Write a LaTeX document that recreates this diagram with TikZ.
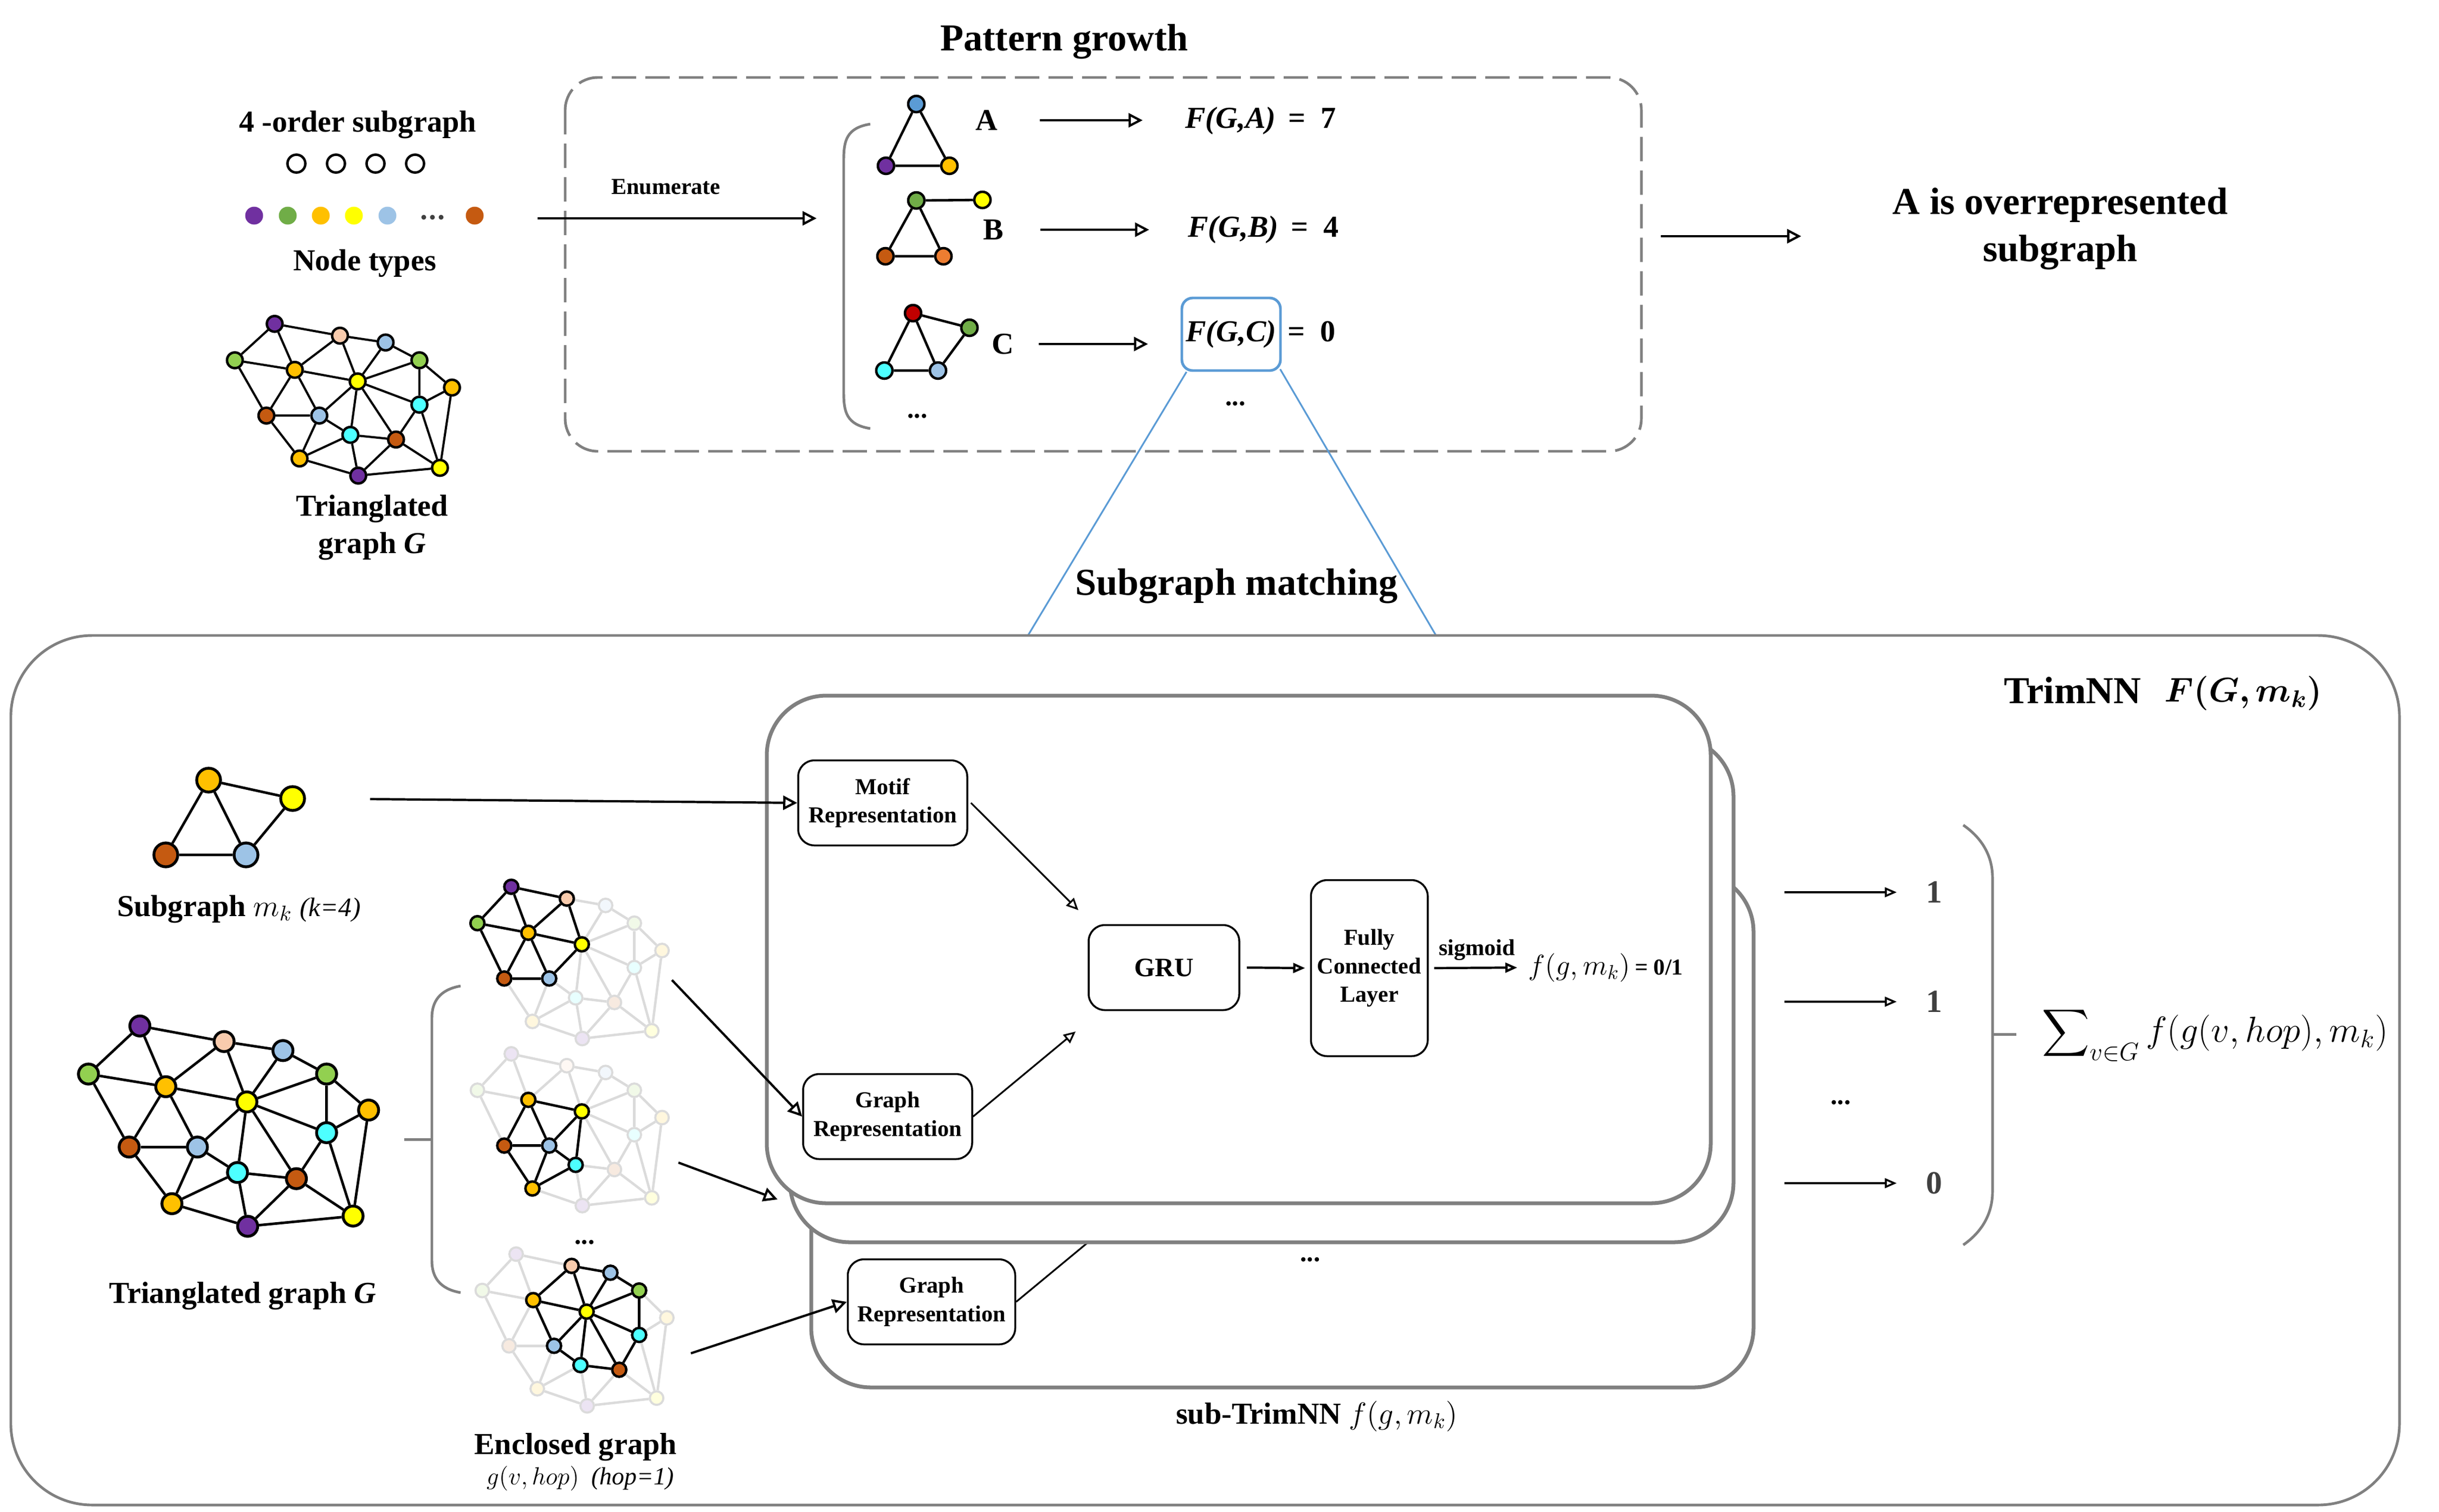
\RequirePackage{fix-cm}
\documentclass[tikz,border=0pt]{standalone}
\usepackage{amsmath}
\usepackage{bm}
\usepackage{fontspec}
\setmainfont{Liberation Serif}
\usetikzlibrary{arrows.meta,positioning}

\definecolor{cpurple}{HTML}{7030A0}
\definecolor{cgreen}{HTML}{70AD47}
\definecolor{clgreen}{HTML}{92D050}
\definecolor{cgold}{HTML}{FFC000}
\definecolor{cyellow}{HTML}{FFFF00}
\definecolor{clblue}{HTML}{9DC3E6}
\definecolor{cbrown}{HTML}{C55A11}
\definecolor{cpeach}{HTML}{F8CBAD}
\definecolor{ccyan}{HTML}{4DFFFF}
\definecolor{cblue}{HTML}{5B9BD5}
\definecolor{corange}{HTML}{ED7D31}
\definecolor{cred}{HTML}{C00000}
\definecolor{cgrey}{HTML}{808080}
\definecolor{cdark}{HTML}{404040}

\colorlet{cpu1}{cpurple}\colorlet{cpe}{cpeach}\colorlet{clb1}{clblue}\colorlet{cgr2}{clgreen}
\colorlet{cgr1}{clgreen}\colorlet{cor1}{cgold}\colorlet{cye}{cyellow}\colorlet{cor2}{cgold}
\colorlet{ccy1}{ccyan}\colorlet{cbr1}{cbrown}\colorlet{clb2}{clblue}\colorlet{ccy2}{ccyan}
\colorlet{cbr2}{cbrown}\colorlet{cor3}{cgold}\colorlet{cpu2}{cpurple}\colorlet{cye2}{cyellow}

\def\gnodes{pu1/-1.531/1.062,pe/-0.326/0.844,lb1/0.516/0.718,gr2/1.14/0.39,gr1/-2.266/0.39,or1/-1.16/0.213,ye/0/0,or2/1.741/-0.114,cy1/1.14/-0.43,br1/-1.684/-0.631,lb2/-0.708/-0.631,cy2/-0.134/-0.987,br2/0.708/-1.073,or3/-1.072/-1.423,pu2/0.011/-1.739,ye2/1.519/-1.596}
\def\gedges{pu1/gr1,pu1/pe,pu1/or1,pe/lb1,pe/or1,pe/ye,lb1/gr2,lb1/ye,gr2/or2,gr2/ye,gr2/cy1,gr1/or1,gr1/br1,or1/ye,or1/br1,or1/lb2,ye/cy1,ye/lb2,ye/cy2,ye/br2,or2/cy1,or2/ye2,cy1/br2,cy1/ye2,br1/lb2,br1/or3,lb2/or3,lb2/cy2,cy2/or3,cy2/br2,cy2/pu2,br2/pu2,br2/ye2,or3/pu2,pu2/ye2}

\newcommand{\placegraph}[4]{\begin{scope}[shift={#2},#3]\foreach \n/\x/\y in \gnodes {\node[#4=c\n] (#1\n) at (\x,\y) {};}\end{scope}}
\newcommand{\linkgraph}[3]{\foreach \a/\b in #2 {\draw[#3] (#1\a) -- (#1\b);}}
\newcommand{\lightgraph}[3]{\foreach \n in {#2} {\node[#3=c\n] (#1\n) at (#1\n) {};}}

\tikzset{every path/.style={line width=1pt},
  titletext/.style={font=\fontsize{20}{24.7}\selectfont\bfseries},
  captext/.style={font=\fontsize{16}{19.6}\selectfont\bfseries},
  smalltext/.style={font=\fontsize{12}{15}\selectfont\bfseries},
  ftext/.style={font=\fontsize{16}{19.6}\selectfont\bfseries, inner sep=0pt},
  dotstext/.style={font=\fontsize{14}{16}\selectfont\bfseries, text=cdark},
  numtext/.style={font=\fontsize{17}{20}\selectfont\bfseries, text=cdark, inner sep=0pt},
  boxtext/.style={font=\fontsize{12}{15}\selectfont\bfseries, align=center, draw, rounded corners=0.3cm, line width=1pt, fill=white, minimum width=3.12cm, minimum height=1.57cm},
  topnode/.style={circle, draw, fill=#1, line width=1.3pt, minimum size=0.29cm, inner sep=0pt},
  botnode/.style={circle, draw, fill=#1, line width=1.5pt, minimum size=0.37cm, inner sep=0pt},
  mknode/.style={circle, draw, fill=#1, line width=1.5pt, minimum size=0.44cm, inner sep=0pt},
  pnode/.style={circle, draw, fill=#1, line width=1.3pt, minimum size=0.30cm, inner sep=0pt},
  fadenode/.style={circle, draw=black!14, fill=#1!13, line width=1.1pt, minimum size=0.25cm, inner sep=0pt},
  encnode/.style={circle, draw, fill=#1, line width=1.3pt, minimum size=0.26cm, inner sep=0pt},
  topedge/.style={line width=1.15pt},
  botedge/.style={line width=1.35pt},
  fadeedge/.style={draw=black!14, line width=1.3pt},
  encedge/.style={line width=1.3pt},
  pedge/.style={line width=1.3pt},
  bigarrow/.style={-{Triangle[open,length=0.26cm,width=0.26cm]}, line width=1.2pt},
  midarrow/.style={-{Triangle[open,length=0.22cm,width=0.18cm]}, line width=1pt},
  smallarrow/.style={-{Triangle[open,length=0.22cm,width=0.2cm]}, line width=0.9pt},
  dashbox/.style={draw=cgrey, line width=1.4pt, dash pattern=on 0.45cm off 0.17cm, rounded corners=0.6cm},
  outerbox/.style={draw=cgrey, line width=1.4pt, rounded corners=1.5cm},
  subbox/.style={draw=cgrey, line width=2pt, fill=white, rounded corners=1.1cm},
  bracket/.style={draw=cgrey, line width=1.4pt},
  zoomline/.style={draw=cblue, line width=0.9pt}}

\begin{document}
\begin{tikzpicture}
\useasboundingbox (0,0) rectangle (45.01,-27.90);

\node[titletext] (pgtitle) at (19.64,-0.77) {Pattern growth};
\draw[dashbox] (10.43,-1.43) rectangle (30.29,-8.33);

\node[captext] (ordertxt) at (6.60,-2.30) {4 -order subgraph};
\draw[line width=1.3pt] (5.47,-3.02) circle[radius=.165];
\draw[line width=1.3pt] (6.20,-3.02) circle[radius=.165];
\draw[line width=1.3pt] (6.93,-3.02) circle[radius=.165];
\draw[line width=1.3pt] (7.66,-3.02) circle[radius=.165];
\fill[cpurple] (4.69,-3.98) circle[radius=.165];
\fill[cgreen] (5.31,-3.98) circle[radius=.165];
\fill[cgold] (5.92,-3.98) circle[radius=.165];
\fill[cyellow] (6.53,-3.98) circle[radius=.165];
\fill[clblue] (7.15,-3.98) circle[radius=.165];
\fill[cdark] (7.82,-4.01) circle[radius=.045];
\fill[cdark] (7.98,-4.01) circle[radius=.045];
\fill[cdark] (8.14,-4.01) circle[radius=.045];
\fill[cbrown] (8.76,-3.98) circle[radius=.165];
\node[captext] (typetxt) at (6.73,-4.86) {Node types};

\placegraph{t}{(6.60,-7.04)}{scale=1}{topnode}
\linkgraph{t}{\gedges}{topedge}
\node[captext, align=center] (tgcap) at (6.87,-9.74) {Trianglated\\graph \textit{G}};

\coordinate (enumin) at (9.92,-4.03);
\coordinate (enumout) at (15.07,-4.03);
\draw[bigarrow] (enumin) -- node[smalltext, above=0.3cm, pos=0.46] (enumtxt) {Enumerate} (enumout);
\draw[bracket] (16.06,-2.29) .. controls (15.62,-2.36) and (15.57,-2.60) .. (15.57,-2.95) -- (15.57,-7.25) .. controls (15.57,-7.60) and (15.62,-7.84) .. (16.06,-7.91);

\node[pnode=cblue] (pa1) at (16.91,-1.92) {};
\node[pnode=cpurple] (pa2) at (16.35,-3.06) {};
\node[pnode=cgold] (pa3) at (17.52,-3.06) {};
\draw[pedge] (pa1) -- (pa2) -- (pa3) -- (pa1);
\node[ftext] (labela) at (18.21,-2.22) {A};

\node[pnode=cgreen] (pb1) at (16.91,-3.70) {};
\node[pnode=cyellow] (pb2) at (18.13,-3.69) {};
\node[pnode=cbrown] (pb3) at (16.34,-4.73) {};
\node[pnode=corange] (pb4) at (17.41,-4.73) {};
\draw[pedge] (pb2) -- (pb1) -- (pb3) -- (pb4) -- (pb1);
\node[ftext] (labelb) at (18.33,-4.24) {B};

\node[pnode=cred] (pc1) at (16.85,-5.78) {};
\node[pnode=cgreen] (pc2) at (17.89,-6.05) {};
\node[pnode=ccyan] (pc3) at (16.32,-6.84) {};
\node[pnode=clblue] (pc4) at (17.31,-6.84) {};
\draw[pedge] (pc2) -- (pc1) -- (pc3) -- (pc4) -- (pc1);
\draw[pedge] (pc4) -- (pc2);
\node[ftext] (labelc) at (18.51,-6.35) {C};
\node[dotstext, text=black] (pdots) at (16.93,-7.68) {...};

\node[ftext] (fga) at (22.71,-2.23) {\textit{F(G,A)}};
\node[ftext, base right=0.19cm of fga] (eqa) {=\ \ 7};
\node[ftext] (fgb) at (22.76,-4.24) {\textit{F(G,B)}};
\node[ftext, base right=0.19cm of fgb] (eqb) {=\ \ 4};
\node[ftext, draw=cblue, line width=1.4pt, rounded corners=0.2cm, minimum width=1.82cm, minimum height=1.34cm] (fgc) at (22.72,-6.17) {\textit{F(G,C)}};
\node[ftext, anchor=base west] (eqc) at ([xshift=0.09cm]fgc.base east) {=\ \ 0};
\node[dotstext, text=black] (fdots) at (22.80,-7.45) {...};

\draw[bigarrow, shorten <=0.76cm, shorten >=0.77cm] (labela) -- (labela -| fga.west);
\draw[bigarrow, shorten <=0.66cm, shorten >=0.70cm] (labelb) -- (labelb -| fgb.west);
\draw[bigarrow, shorten <=0.44cm, shorten >=0.60cm] (labelc) -- (labelc -| fgc.west);

\coordinate (zoomleft) at (18.97,-11.73);
\coordinate (zoomright) at (26.50,-11.73);
\draw[zoomline] ([xshift=0.11cm]fgc.south west) -- (zoomleft);
\draw[zoomline] ([xshift=-0.03cm,yshift=0.05cm]fgc.south east) -- (zoomright);
\node[titletext] (smtitle) at (22.82,-10.82) {Subgraph matching};

\coordinate (pgout) at (30.65,-4.36);
\coordinate (pgend) at (33.24,-4.36);
\draw[bigarrow] (pgout) -- (pgend);
\node[titletext, align=center] (overtxt) at (38.02,-4.22) {A is overrepresented\\subgraph};

\draw[outerbox] (0.20,-11.73) rectangle (44.28,-27.78);
\node[titletext] (trimtxt) at (38.25,-12.74) {TrimNN};
\node[font=\fontsize{18}{22}\selectfont] (trimfun) at (41.40,-12.80) {$\bm{F(G,m_k)}$};

\node[mknode=cgold] (mk1) at (3.85,-14.40) {};
\node[mknode=cyellow] (mk2) at (5.40,-14.74) {};
\node[mknode=cbrown] (mk3) at (3.06,-15.78) {};
\node[mknode=clblue] (mk4) at (4.54,-15.78) {};
\draw[botedge] (mk2) -- (mk1) -- (mk3) -- (mk4) -- (mk1);
\draw[botedge] (mk4) -- (mk2);
\node[captext] (mkcap) at (4.41,-16.78) {Subgraph $m_k$ {\fontsize{14}{16}\selectfont\mdseries\itshape (k=4)}};

\placegraph{b}{(4.556,-20.34)}{xscale=1.29,yscale=1.32}{botnode}
\linkgraph{b}{\gedges}{botedge}
\node[captext] (bgcap) at (4.48,-23.92) {Trianglated graph \textit{G}};

\draw[bracket] (8.50,-18.20) .. controls (8.10,-18.27) and (7.97,-18.50) .. (7.97,-18.79) -- (7.97,-23.27) .. controls (7.97,-23.56) and (8.10,-23.79) .. (8.50,-23.86);
\draw[bracket] (7.46,-21.03) -- (7.97,-21.03);

\placegraph{ea}{(10.737,-17.431)}{xscale=0.85}{fadenode}
\linkgraph{ea}{\gedges}{fadeedge}
\lightgraph{ea}{or1,pu1,pe,ye,gr1,br1,lb2}{encnode}
\linkgraph{ea}{{pu1/gr1,pu1/pe,pu1/or1,pe/or1,pe/ye,gr1/or1,gr1/br1,or1/ye,or1/br1,or1/lb2,ye/lb2,br1/lb2}}{encedge}

\placegraph{eb}{(10.737,-20.515)}{xscale=0.85}{fadenode}
\linkgraph{eb}{\gedges}{fadeedge}
\lightgraph{eb}{lb2,or1,ye,br1,or3,cy2}{encnode}
\linkgraph{eb}{{or1/ye,or1/br1,or1/lb2,ye/lb2,ye/cy2,br1/lb2,br1/or3,lb2/or3,lb2/cy2,cy2/or3}}{encedge}

\placegraph{ec}{(10.826,-24.211)}{xscale=0.85}{fadenode}
\linkgraph{ec}{\gedges}{fadeedge}
\lightgraph{ec}{ye,pe,lb1,gr2,or1,cy1,lb2,cy2,br2}{encnode}
\linkgraph{ec}{{pe/lb1,pe/or1,pe/ye,lb1/gr2,lb1/ye,gr2/ye,gr2/cy1,or1/ye,or1/lb2,ye/cy1,ye/lb2,ye/cy2,ye/br2,cy1/br2,lb2/cy2,cy2/br2}}{encedge}

\node[dotstext, text=black] (edots) at (10.79,-22.93) {...};
\node[captext] (enccap) at (10.62,-26.71) {Enclosed graph};
\node[font=\fontsize{13}{15}\selectfont] (hopcap) at (10.71,-27.29) {$g(v,hop)$\ \ \textit{(hop=1)}};

\draw[subbox] (14.97,-16.10) rectangle (32.36,-25.61);
\node[boxtext, minimum width=3.09cm] (grep3) at (17.19,-24.03) {Graph\\Representation};
\coordinate (grephid) at (20.6,-22.5);
\draw[line width=0.9pt] (grep3.east) -- (grephid);
\node[dotstext, text=black] (sdots) at (24.18,-23.25) {...};
\draw[subbox] (14.58,-13.60) rectangle (31.99,-22.93);
\draw[subbox] (14.15,-12.84) rectangle (31.57,-22.21);
\node[captext] (subcap) at (24.30,-26.14) {sub-TrimNN $f(g,m_k)$};

\node[boxtext] (motif) at (16.29,-14.82) {Motif\\Representation};
\node[boxtext] (grep1) at (16.38,-20.61) {Graph\\Representation};
\node[boxtext, font=\fontsize{14}{16}\selectfont\bfseries, minimum width=2.78cm] (gru) at (21.48,-17.86) {GRU};
\node[boxtext, minimum width=2.11cm, minimum height=3.25cm] (fc) at (25.27,-17.87) {Fully\\Connected\\Layer};
\node[font=\fontsize{15}{18}\selectfont, anchor=west, inner sep=1pt] (fout) at (28.15,-17.86) {$f(g,m_k)$\,{\fontsize{12}{14}\selectfont\bfseries = 0/1}};

\coordinate (gruin1) at (19.90,-16.80);
\coordinate (gruin2) at (19.85,-19.04);
\draw[smallarrow] ([xshift=0.05cm]motif.east) -- (gruin1);
\draw[smallarrow] (grep1.east) -- (gruin2);
\draw[midarrow, line width=1.2pt, shorten <=0.12cm, shorten >=0.09cm] (gru.east) -- (fc.west);
\draw[midarrow, line width=1.2pt, shorten <=0.1cm, shorten >=0.15cm] (fc.east) -- node[smalltext, above] (sigtxt) {sigmoid} (fout.west);

\coordinate (mkout) at (6.83,-14.75);
\draw[bigarrow] (mkout) -- (motif.west);
\coordinate (encaout) at (12.40,-18.09);
\coordinate (encbout) at (12.52,-21.46);
\coordinate (encbin) at (14.35,-22.14);
\coordinate (enccout) at (12.75,-24.98);
\draw[bigarrow] (encaout) -- (grep1.west);
\draw[bigarrow] (encbout) -- (encbin);
\draw[bigarrow] (enccout) -- (grep3.west);

\node[numtext] (num1) at (35.69,-16.47) {1};
\node[numtext] (num2) at (35.69,-18.49) {1};
\node[numtext] (num3) at (35.69,-21.84) {0};
\coordinate (outa) at (32.93,-16.47);
\coordinate (outb) at (32.93,-18.49);
\coordinate (outc) at (32.93,-21.84);
\draw[midarrow, shorten >=0.52cm] (outa) -- (num1.west);
\draw[midarrow, shorten >=0.52cm] (outb) -- (num2.west);
\draw[midarrow, shorten >=0.52cm] (outc) -- (num3.west);
\node[dotstext, text=black] (odots) at (33.97,-20.35) {...};

\draw[bracket] (36.23,-15.23) .. controls (36.62,-15.50) and (36.77,-15.85) .. (36.77,-16.20) -- (36.77,-22.00) .. controls (36.77,-22.35) and (36.62,-22.71) .. (36.23,-22.98);
\draw[bracket] (36.77,-19.09) -- (37.21,-19.09);
\node[font=\fontsize{19}{23}\selectfont, anchor=west] (sumtxt) at (37.55,-19.09) {$\displaystyle\sum\nolimits_{v\in G} f(g(v,hop),m_k)$};
\end{tikzpicture}
\end{document}
